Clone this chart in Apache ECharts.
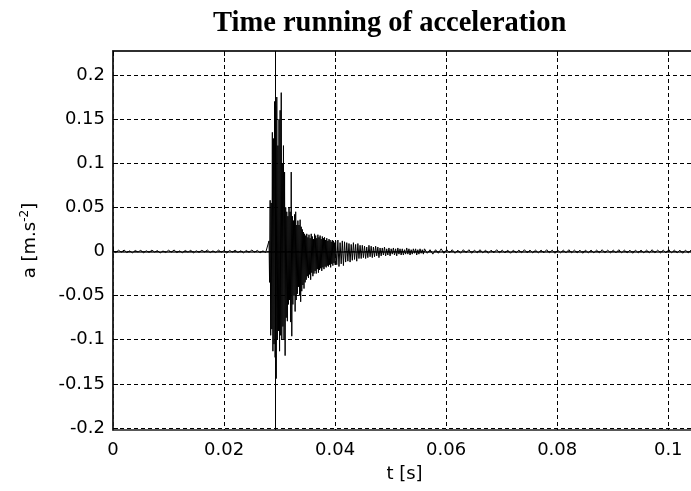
<!DOCTYPE html>
<html>
<head>
<meta charset="utf-8">
<title>Time running of acceleration</title>
<script src="https://cdn.jsdelivr.net/npm/echarts@6/dist/echarts.min.js"></script>
<style>
    html, body { margin: 0; padding: 0; background: #fff; }
    #chart { width: 691px; height: 491px; }
</style>
</head>
<body>
<div id="chart"></div>
<script>
// tick labels
let xTicks = [0, 0.02, 0.04, 0.06, 0.08, 0.1]
let yTicks = [-0.2, -0.15, -0.1, -0.05, 0, 0.05, 0.1, 0.15, 0.2]
// trigger line
let markerTimes = [0.0292]

// quiet part before the hit, 0 .. 0.0275 s, every 0.0005 s
let preStart = 0, preStep = 0.0005
let preValues = [0.0006, -0.0012, 0.0014, -0.0008, 0.0016, -0.0012, 0.0007, -0.0015, 0.0011, -0.0006,
    0.0013, -0.0014, 0.0008, -0.0010, 0.0015, -0.0007, 0.0010, -0.0016, 0.0006, -0.0011,
    0.0014, -0.0008, 0.0017, -0.0012, 0.0007, -0.0014, 0.0011, -0.0007, 0.0013, -0.0015,
    0.0008, -0.0010, 0.0014, -0.0006, 0.0016, -0.0012, 0.0007, -0.0011, 0.0015, -0.0008,
    0.0010, -0.0017, 0.0012, -0.0007, 0.0014, -0.0011, 0.0008, -0.0015, 0.0011, -0.0010,
    0.0016, -0.0008, 0.0012, -0.0014, 0.0007, -0.0011]

// the hit, from 0.0281 s, every 0.0001 s
let burstStart = 0.0281, burstStep = 0.0001
let burstValues = [0.012, -0.035, 0.058, -0.095, 0.055, -0.088, 0.135, -0.113, 0.128, -0.105,
    0.170, -0.120, 0.165, -0.144, 0.175, -0.100, 0.120, -0.090, 0.150, -0.113,
    0.160, -0.095, 0.180, -0.100, 0.100, -0.085, 0.120, -0.100, 0.090, -0.118,
    0.050, -0.075, 0.045, -0.079, 0.040, -0.060, 0.050, -0.055, 0.045, -0.080,
    0.090, -0.096, 0.040, -0.060, 0.035, -0.050, 0.042, -0.068, 0.045, -0.055,
    0.030, -0.048, 0.035, -0.040, 0.030, -0.050, 0.036, -0.057, 0.028, -0.045,
    0.025, -0.038, 0.022, -0.042, 0.020, -0.035, 0.018, -0.032, 0.020, -0.028,
    0.016, -0.030, 0.019, -0.026, 0.015, -0.032, 0.020, -0.024, 0.017, -0.028,
    0.014, -0.025, 0.020, -0.022, 0.018, -0.025, 0.015, -0.020, 0.019, -0.024,
    0.016, -0.021, 0.018, -0.019, 0.014, -0.022, 0.017, -0.018, 0.015, -0.020,
    0.016, -0.017, 0.013, -0.018, 0.015, -0.016, 0.012, -0.017, 0.014, -0.015,
    0.013, -0.018, 0.011, -0.014, 0.013, -0.016, 0.012, -0.013, 0.010, -0.015]

// decay, from 0.0401 s, every 0.0002 s
let decayStart = 0.0401, decayStep = 0.0002
let decayValues = [0.012, -0.015, 0.013, -0.017, 0.010, -0.014, 0.012, -0.016, 0.011,
    -0.012, 0.010, -0.011, 0.009, -0.012, 0.008, -0.010, 0.010, -0.009, 0.008, -0.011, 0.009, -0.008, 0.007,
    -0.008, 0.007, -0.007, 0.006, -0.008, 0.005, -0.007, 0.007, -0.006, 0.006, -0.007, 0.005, -0.006, 0.006, -0.005, 0.005, -0.007, 0.004,
    -0.005, 0.004, -0.004, 0.005, -0.005, 0.003, -0.004, 0.004, -0.005, 0.003,
    -0.003, 0.004, -0.004, 0.003, -0.005, 0.004, -0.003, 0.003, -0.004, 0.003,
    -0.004, 0.002, -0.003, 0.004, -0.003, 0.003, -0.004, 0.002, -0.003, 0.003,
    -0.002, 0.003, -0.004, 0.002, -0.003, 0.003, -0.002, 0.002, -0.003]

// tail, from 0.0561 s, every 0.0005 s
let tailStart = 0.0561, tailStep = 0.0005
let tailValues = [0.003, -0.002, 0.002, -0.003, 0.002, -0.002, 0.003, -0.002, 0.002, -0.0015,
    0.002, -0.002, 0.0015, -0.002, 0.002, -0.0015, 0.002, -0.002, 0.0015, -0.0015,
    0.002, -0.0015, 0.0015, -0.002, 0.0015, -0.0015, 0.002, -0.0015, 0.0015, -0.0015,
    0.0015, -0.002, 0.0015, -0.0015, 0.0015, -0.0015, 0.002, -0.0015, 0.0015, -0.0015,
    0.0015, -0.0015, 0.0015, -0.0015, 0.002, -0.0015, 0.0015, -0.002, 0.0015, -0.0015,
    0.0015, -0.0015, 0.002, -0.0015, 0.0015, -0.0015, 0.0015, -0.002, 0.0015, -0.0015,
    0.0015, -0.0015, 0.0015, -0.0015, 0.002, -0.0015, 0.0015, -0.0015, 0.0015, -0.0015,
    0.002, -0.0015, 0.0015, -0.0015, 0.0015, -0.002, 0.0015, -0.0015, 0.0015, -0.0015,
    0.0015, -0.0015, 0.002, -0.0015, 0.0015, -0.0015, 0.0015, -0.0015, 0.002, -0.0015,
    0.0015, -0.0015, 0.0015, -0.002, 0.0015, -0.0015, 0.0015, -0.0015];

(function() {
    let myChart = echarts.init(document.getElementById('chart'))

    // sampled pieces -> [t, a] pairs
    let points = []
    function addPiece(start, step, values) {
        values.forEach(function(v, i) {
            points.push([+(start + i * step).toFixed(5), v])
        })
    }
    addPiece(preStart, preStep, preValues)
    addPiece(burstStart, burstStep, burstValues)
    addPiece(decayStart, decayStep, decayValues)
    addPiece(tailStart, tailStep, tailValues)

    let labelFont = { fontFamily: 'DejaVu Sans', fontSize: 18, color: '#000' }
    let gridDash = { type: [4, 3], color: '#000', width: 1 }
    let frame = { color: '#222', width: 1.5 }

    let option = {
        animation: false,
        backgroundColor: '#fff',
        title: {
            text: 'Time running of acceleration',
            left: 213,
            top: 9,
            padding: 0,
            textStyle: {
                fontFamily: 'Liberation Serif',
                fontWeight: 'bold',
                fontSize: 28.5,
                color: '#000'
            }
        },
        grid: {
            left: 113,
            top: 51,
            right: -5,
            bottom: 61,
            outerBoundsMode: 'none',
            containLabel: false,
            show: true,
            borderColor: '#222',
            borderWidth: 1.5
        },
        xAxis: [{
            type: 'value',
            min: 0,
            max: 0.105,
            position: 'bottom',
            name: 't [s]',
            nameLocation: 'middle',
            nameGap: 35,
            nameTextStyle: labelFont,
            axisLine: { show: true, lineStyle: frame },
            axisTick: { inside: true, length: 5, lineStyle: { color: '#000' }, customValues: xTicks },
            axisLabel: Object.assign({ margin: 11, customValues: xTicks }, labelFont),
            splitLine: { show: true, lineStyle: gridDash }
        }, {
            type: 'value',
            min: 0,
            max: 0.105,
            position: 'top',
            axisLine: { show: true, lineStyle: frame },
            axisTick: { inside: true, length: 5, lineStyle: { color: '#000' }, customValues: xTicks },
            axisLabel: { show: false },
            splitLine: { show: false }
        }],
        yAxis: {
            type: 'value',
            min: -0.2023,
            max: 0.2272,
            name: '{n|a [m.s}{sup|-2}{n|]}',
            nameLocation: 'middle',
            nameGap: 72,
            nameTextStyle: {
                fontFamily: 'DejaVu Sans',
                fontSize: 18,
                color: '#000',
                rich: {
                    n: { fontFamily: 'DejaVu Sans', fontSize: 18, lineHeight: 22, color: '#000' },
                    sup: { fontFamily: 'DejaVu Sans', fontSize: 12, lineHeight: 22, verticalAlign: 'top', color: '#000' }
                }
            },
            axisLine: { show: true, lineStyle: frame },
            axisTick: { inside: true, length: 5, lineStyle: { color: '#000' }, customValues: yTicks },
            axisLabel: Object.assign({ margin: 8, customValues: yTicks }, labelFont),
            splitLine: { show: true, lineStyle: gridDash }
        },
        series: [{
            name: 'a',
            type: 'line',
            xAxisIndex: 0,
            data: points,
            showSymbol: false,
            sampling: null,
            lineStyle: { color: '#000', width: 1 },
            markLine: {
                silent: true,
                precision: 5,
                symbol: 'none',
                label: { show: false },
                lineStyle: { color: '#000', width: 1, type: 'solid' },
                data: markerTimes.map(function(t) { return { xAxis: t } })
            }
        }]
    }
    myChart.setOption(option)
})()
</script>
</body>
</html>
